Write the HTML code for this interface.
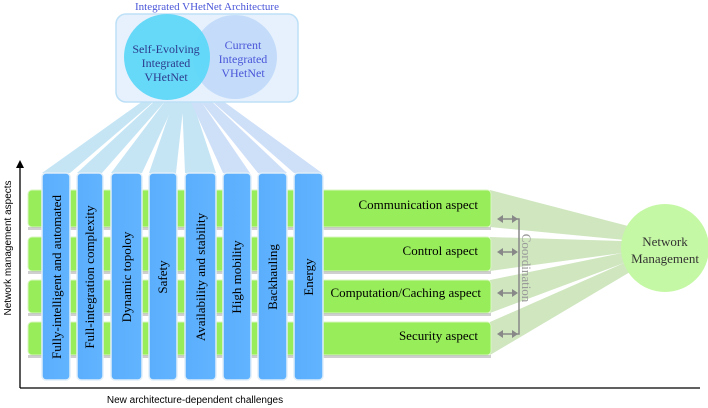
<!DOCTYPE html>
<html><head><style>
body{margin:0;width:708px;height:408px;background:#fff;overflow:hidden;position:relative;font-family:"Liberation Serif",serif}
</style></head><body>
<svg width="708" height="408" style="position:absolute;left:0;top:0">
<defs>
<linearGradient id="bg" x1="0" x2="1"><stop offset="0" stop-color="#5aaefc"/><stop offset="1" stop-color="#62b4ff"/></linearGradient>
</defs>
<g fill="#bfe3f5" opacity="0.9">
<polygon points="150,96 160,96 70,173 42,173"/>
<polygon points="158,98 168,98 102,173 77,173"/>
<polygon points="166,100 176,100 142,173 111,173"/>
<polygon points="174,100 184,100 176,173 149,173"/>
<polygon points="182,100 192,100 216,173 185,173"/>
<polygon points="190,100 200,100 250,173 223,173" fill="#c9dcf8"/>
<polygon points="198,98 208,98 287,173 258,173" fill="#c9dcf8"/>
<polygon points="206,96 216,96 322,173 294,173" fill="#c9dcf8"/>
</g>
<rect x="116" y="14" width="182" height="88" rx="10" fill="#e6f1fd" stroke="#bde0f7" stroke-width="1.5"/>
<circle cx="235" cy="57" r="42" fill="#c4dcfa"/>
<circle cx="167" cy="57" r="43" fill="#5fd7f8" opacity="0.95"/>
<g fill="#cfe6bf">
<polygon points="490,190 490,227 625,240 628,226"/>
<polygon points="490,237 490,271 622,253 622,241"/>
<polygon points="490,280 490,313 624,263 622,253"/>
<polygon points="490,322 490,355 630,272 624,263"/>
</g>
<g fill="#98ee5a" stroke="#d8f5c0" stroke-width="1">
<rect x="28" y="190" width="463" height="37" rx="4"/>
<rect x="28" y="237" width="463" height="34" rx="4"/>
<rect x="28" y="280" width="463" height="33" rx="4"/>
<rect x="28" y="322" width="463" height="33" rx="4"/>
</g>
<g fill="#777" opacity="0.35">
<rect x="28" y="227" width="463" height="3"/><rect x="28" y="271" width="463" height="3"/><rect x="28" y="313" width="463" height="3"/><rect x="28" y="355" width="463" height="3"/>
</g>
<g fill="url(#bg)" stroke="#e0eef8" stroke-width="1.5">
<rect x="42" y="173" width="28" height="207" rx="4"/>
<rect x="77" y="173" width="26" height="207" rx="4"/>
<rect x="111" y="173" width="31" height="207" rx="4"/>
<rect x="149" y="173" width="28" height="207" rx="4"/>
<rect x="185" y="173" width="31" height="207" rx="4"/>
<rect x="223" y="173" width="28" height="207" rx="4"/>
<rect x="258" y="173" width="29" height="207" rx="4"/>
<rect x="294" y="173" width="29" height="207" rx="4"/>
</g>
<circle cx="665" cy="248" r="44" fill="#c5f8a5"/>
<line x1="20" y1="388" x2="20" y2="166" stroke="#000" stroke-width="1.3"/>
<polygon points="20,160 16,168 24,168" fill="#000"/>
<line x1="20" y1="388" x2="700" y2="388" stroke="#000" stroke-width="1.3"/>
<g stroke="#888" stroke-width="1.5" fill="#888">
<line x1="500" y1="219" x2="515" y2="219"/><line x1="500" y1="252" x2="515" y2="252"/><line x1="500" y1="293" x2="515" y2="293"/><line x1="500" y1="334" x2="515" y2="334"/>
<polyline points="515,219 519,219 519,334 515,334" fill="none"/>
</g>
<g fill="#888">
<polygon points="497,219 503,215 503,223"/><polygon points="518,219 512,215 512,223"/>
<polygon points="497,252 503,248 503,256"/><polygon points="518,252 512,248 512,256"/>
<polygon points="497,293 503,289 503,297"/><polygon points="518,293 512,289 512,297"/>
<polygon points="497,334 503,330 503,338"/><polygon points="518,334 512,330 512,338"/>
</g>
<g font-family="Liberation Serif,serif" font-size="13" fill="#000">
<text transform="translate(61,277) rotate(-90)" text-anchor="middle">Fully-intelligent and automated</text>
<text transform="translate(94,277) rotate(-90)" text-anchor="middle">Full-integration complexity</text>
<text transform="translate(131,277) rotate(-90)" text-anchor="middle">Dynamic topoloy</text>
<text transform="translate(167,277) rotate(-90)" text-anchor="middle">Safety</text>
<text transform="translate(205,277) rotate(-90)" text-anchor="middle">Availability and stability</text>
<text transform="translate(241,277) rotate(-90)" text-anchor="middle">High mobility</text>
<text transform="translate(277,277) rotate(-90)" text-anchor="middle">Backhauling</text>
<text transform="translate(313,277) rotate(-90)" text-anchor="middle">Energy</text>
<text x="478" y="209" text-anchor="end">Communication aspect</text>
<text x="478" y="255" text-anchor="end">Control aspect</text>
<text x="481" y="297" text-anchor="end">Computation/Caching aspect</text>
<text x="478" y="340" text-anchor="end">Security aspect</text>
<text transform="translate(522,268) rotate(90)" text-anchor="middle" fill="#999">Coordination</text>
<text x="665" y="246" text-anchor="middle" fill="#333">Network</text>
<text x="665" y="263" text-anchor="middle" fill="#333">Management</text>
<text x="207" y="10" text-anchor="middle" fill="#4a56d8" font-size="11">Integrated VHetNet Architecture</text>
<text x="166" y="53" text-anchor="middle" fill="#2d3a8c" font-size="12">Self-Evolving</text>
<text x="166" y="67" text-anchor="middle" fill="#2d3a8c" font-size="12">Integrated</text>
<text x="166" y="81" text-anchor="middle" fill="#2d3a8c" font-size="12">VHetNet</text>
<text x="243" y="49" text-anchor="middle" fill="#4a56d8" font-size="12">Current</text>
<text x="243" y="63" text-anchor="middle" fill="#4a56d8" font-size="12">Integrated</text>
<text x="243" y="77" text-anchor="middle" fill="#4a56d8" font-size="12">VHetNet</text>
</g>
<g font-family="Liberation Sans,sans-serif" font-size="10" fill="#000">
<text x="195" y="403" text-anchor="middle">New architecture-dependent challenges</text>
<text transform="translate(11,248) rotate(-90)" text-anchor="middle">Network management aspects</text>
</g>
</svg>
</body></html>
